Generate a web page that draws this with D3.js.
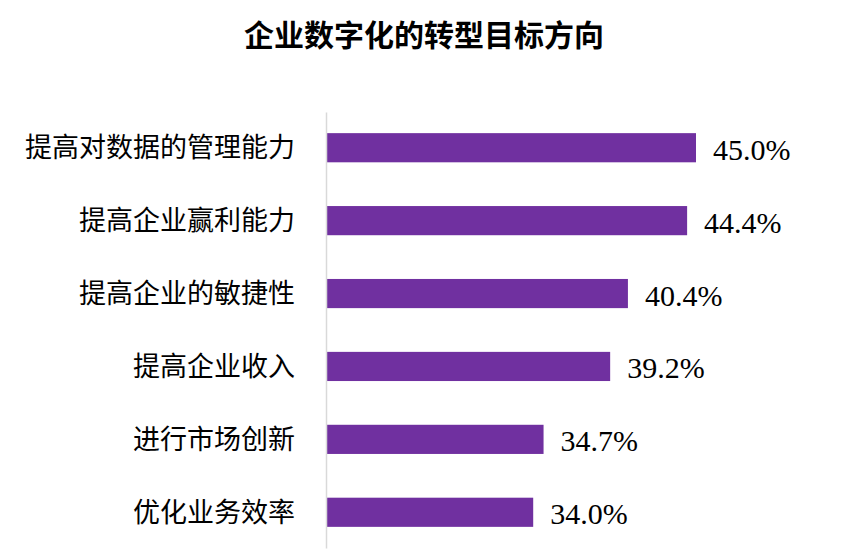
<!DOCTYPE html>
<html>
<head>
<meta charset="utf-8">
<script src="https://cdn.jsdelivr.net/npm/d3@7"></script>
<style>
  body { margin: 0; background: #fff; }
  svg { display: block; }
</style>
</head>
<body>
<div id="chart"></div>
<script>
const categories = ["提高对数据的管理能力", "提高企业赢利能力", "提高企业的敏捷性", "提高企业收入", "进行市场创新", "优化业务效率"];
const values = [45.0, 44.4, 40.4, 39.2, 34.7, 34.0];
const xDomain = [20, 50];

const width = 852, height = 556;
const margin = { top: 112, right: 82, bottom: 8, left: 326 };

const svg = d3.select("#chart").append("svg")
  .attr("width", width)
  .attr("height", height);

// title
svg.append("text")
  .attr("x", 424)
  .attr("y", 46)
  .attr("text-anchor", "middle")
  .style("font-family", "'Noto Sans CJK SC', sans-serif")
  .style("font-weight", "bold")
  .style("font-size", "30px")
  .style("fill", "#000")
  .text("企业数字化的转型目标方向");

const x = d3.scaleLinear()
  .domain(xDomain)
  .range([margin.left, width - margin.right]);

const y = d3.scaleBand()
  .domain(categories)
  .range([margin.top, height - margin.bottom])
  .paddingInner(0.6)
  .paddingOuter(0.29);

const data = categories.map((c, i) => ({ name: c, value: values[i] }));

// bars
svg.append("g").selectAll("rect")
  .data(data)
  .join("rect")
  .attr("x", x(xDomain[0]))
  .attr("y", d => y(d.name))
  .attr("width", d => x(d.value) - x(xDomain[0]))
  .attr("height", y.bandwidth())
  .attr("fill", "#7030a0");

// vertical axis line with category labels
const yAxis = svg.append("g")
  .attr("transform", `translate(${x(xDomain[0])},0)`)
  .call(d3.axisLeft(y).tickSize(0).tickPadding(31));
yAxis.select(".domain").attr("stroke", "#d9d9d9").attr("stroke-width", 1.5);
yAxis.selectAll("text")
  .style("font-family", "'Noto Sans CJK SC', sans-serif")
  .style("font-size", "27px")
  .style("fill", "#000")
  .attr("dy", "0.35em");

// value labels
svg.append("g").selectAll("text")
  .data(data)
  .join("text")
  .attr("x", d => x(d.value) + 17)
  .attr("y", d => y(d.name) + y.bandwidth() / 2)
  .attr("dy", "0.4em")
  .style("font-family", "'Liberation Serif', serif")
  .style("font-size", "30px")
  .style("fill", "#000")
  .text(d => d.value.toFixed(1) + "%");
</script>
</body>
</html>
